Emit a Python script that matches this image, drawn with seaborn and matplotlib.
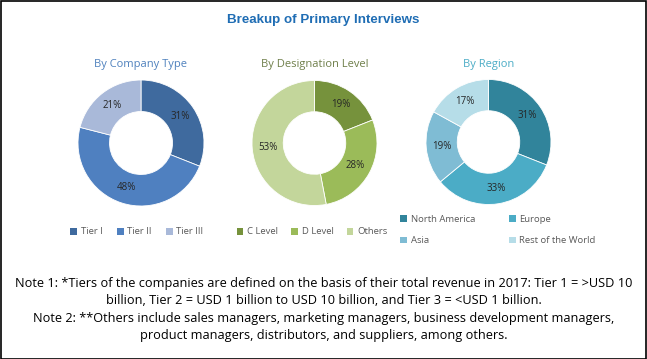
import matplotlib
matplotlib.use("Agg")
import matplotlib.pyplot as plt
import seaborn as sns
from matplotlib.patches import Rectangle, Patch

# ── Data ───────────────────────────────────────────
company_labels = ["Tier I", "Tier II", "Tier III"]
company_values = [31, 48, 21]
company_colors = ["#3f6a9e", "#4f80c0", "#a9b9d9"]

designation_labels = ["C Level", "D Level", "Others"]
designation_values = [19, 28, 53]
designation_colors = ["#76923c", "#9bbb59", "#c3d69b"]

region_labels = ["North America", "Europe", "Asia", "Rest of the World"]
region_values = [31, 33, 19, 17]
region_colors = ["#31849b", "#4bacc6", "#7fbcd4", "#b6dde8"]

title = "Breakup of Primary Interviews"
notes = ("Note 1: *Tiers of the companies are defined on the basis of their total revenue in 2017: Tier 1 = >USD 10\n"
         "billion, Tier 2 = USD 1 billion to USD 10 billion, and Tier 3 = <USD 1 billion.\n"
         "Note 2: **Others include sales managers, marketing managers, business development managers,\n"
         "product managers, distributors, and suppliers, among others.")

sns.set_theme(style="white")
plt.rcParams["font.family"] = ["Open Sans", "DejaVu Sans"]

W, H = 647, 359
fig = plt.figure(figsize=(W / 100, H / 100), dpi=100)
fig.patch.set_facecolor("white")
fig.add_artist(Rectangle((0.5 / W, 0.5 / H), 1 - 1.5 / W, 1 - 1.5 / H,
                         transform=fig.transFigure, fill=False,
                         edgecolor="black", linewidth=1.2))

fig.text(0.5, 1 - 20 / H, title, ha="center", va="center",
         fontsize=9.6, fontweight="bold", color="#1f6db4",
         family=["Liberation Sans", "DejaVu Sans"])


def donut(cx, cy, r, values, colors, labels, subtitle, sub_color,
          leg_y, ncol, leg_x, colsp=2.2, order=None):
    ax = fig.add_axes([(cx - r) / W, (H - cy - r) / H, 2 * r / W, 2 * r / H])
    ax.pie(values, colors=colors, startangle=90, counterclock=False,
           wedgeprops=dict(width=0.5, edgecolor="white", linewidth=0.6),
           autopct=lambda p: f"{round(p):d}%", pctdistance=0.75,
           textprops=dict(fontsize=7, color="#262626"))
    ax.set_xlim(-1, 1)
    ax.set_ylim(-1, 1)
    ax.set_aspect("equal")
    ax.axis("off")
    fig.text(cx / W, 1 - 64 / H, subtitle, ha="center", va="center",
             fontsize=8, color=sub_color)
    handles = [Patch(facecolor=c, edgecolor="none") for c in colors]
    labs = list(labels)
    if order is not None:
        handles = [handles[i] for i in order]
        labs = [labs[i] for i in order]
    fig.legend(handles, labs, loc="center", ncol=ncol, frameon=False,
               bbox_to_anchor=(leg_x / W, 1 - leg_y / H),
               fontsize=6.8, labelcolor="#595959", handlelength=0.7,
               handleheight=0.7, handletextpad=0.4, columnspacing=colsp,
               borderaxespad=0, labelspacing=1.3)


donut(141, 143, 63, company_values, company_colors, company_labels,
      "By Company Type", "#4f81bd", 232, 3, 137, colsp=1.5)
donut(314.5, 143, 62.5, designation_values, designation_colors,
      designation_labels, "By Designation Level", "#6f7f4a", 232, 3, 312,
      colsp=1.4)
donut(488.5, 142, 62.5, region_values, region_colors, region_labels,
      "By Region", "#4bacc6", 230, 2, 498, colsp=3.6, order=[0, 2, 1, 3])

fig.text(0.5, 1 - 309.5 / H, notes, ha="center", va="center",
         fontsize=9.2, color="black", linespacing=1.45,
         family=["Open Sans", "DejaVu Sans"])

fig.savefig("out.png", dpi=100)
